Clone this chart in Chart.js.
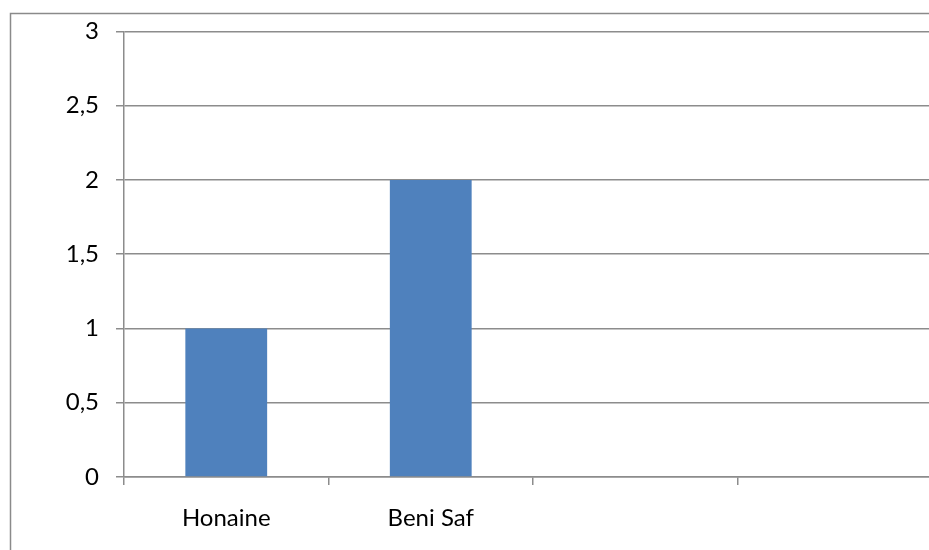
<!DOCTYPE html>
<html>
<head>
<meta charset="utf-8">
<script src="https://cdn.jsdelivr.net/npm/chart.js@4/dist/chart.umd.min.js"></script>
<style>
  html, body { margin: 0; padding: 0; background: #fff; overflow: hidden; }
  #wrap { width: 929px; height: 550px; overflow: hidden; position: relative; }
  canvas { display: block; }
</style>
</head>
<body>
<div id="wrap"><canvas id="c" width="960" height="550"></canvas></div>
<script>
// Sites along the coast and their counts
const categories = ['Honaine', 'Beni Saf', '', ''];
const values = [1, 2, null, null];
const yTicks = [0, 0.5, 1, 1.5, 2, 2.5, 3];

const gridGrey = '#8c8c8c';
const fontSpec = { family: 'Lato, "Liberation Sans", sans-serif', size: 24 };

// Frame drawn around the whole chart object
const framePlugin = {
  id: 'frame',
  beforeDraw(chart) {
    const ctx = chart.ctx;
    ctx.save();
    ctx.strokeStyle = '#8a8a8a';
    ctx.lineWidth = 1.5;
    ctx.strokeRect(10.5, 13.5, 1000, 600);
    ctx.restore();
  }
};

new Chart(document.getElementById('c'), {
  type: 'bar',
  data: {
    labels: categories,
    datasets: [{
      data: values,
      backgroundColor: '#4F81BD',
      borderWidth: 0,
      categoryPercentage: 1,
      barPercentage: 0.4
    }]
  },
  options: {
    responsive: false,
    animation: false,
    layout: { padding: { top: 30, right: 18, left: 0, bottom: 0 } },
    plugins: { legend: { display: false }, tooltip: { enabled: false } },
    scales: {
      x: {
        offset: true,
        grid: {
          offset: true,
          drawOnChartArea: false,
          drawTicks: true,
          tickLength: 8,
          color: gridGrey,
          lineWidth: 1.5
        },
        border: { display: true, color: gridGrey, width: 1.5 },
        ticks: { color: '#000', font: fontSpec, padding: 19, maxRotation: 0 },
        afterFit(scale) { scale.height = 73; }
      },
      y: {
        min: 0,
        max: 3,
        afterBuildTicks(scale) { scale.ticks = yTicks.map(v => ({ value: v })); },
        grid: {
          color: gridGrey,
          lineWidth: 1.5,
          drawTicks: true,
          tickLength: 8
        },
        border: { display: true, color: gridGrey, width: 1.5 },
        ticks: {
          color: '#000',
          font: fontSpec,
          padding: 17,
          callback: v => String(v).replace('.', ',')
        },
        afterFit(scale) { scale.width = 124; }
      }
    }
  },
  plugins: [framePlugin]
});
</script>
</body>
</html>
